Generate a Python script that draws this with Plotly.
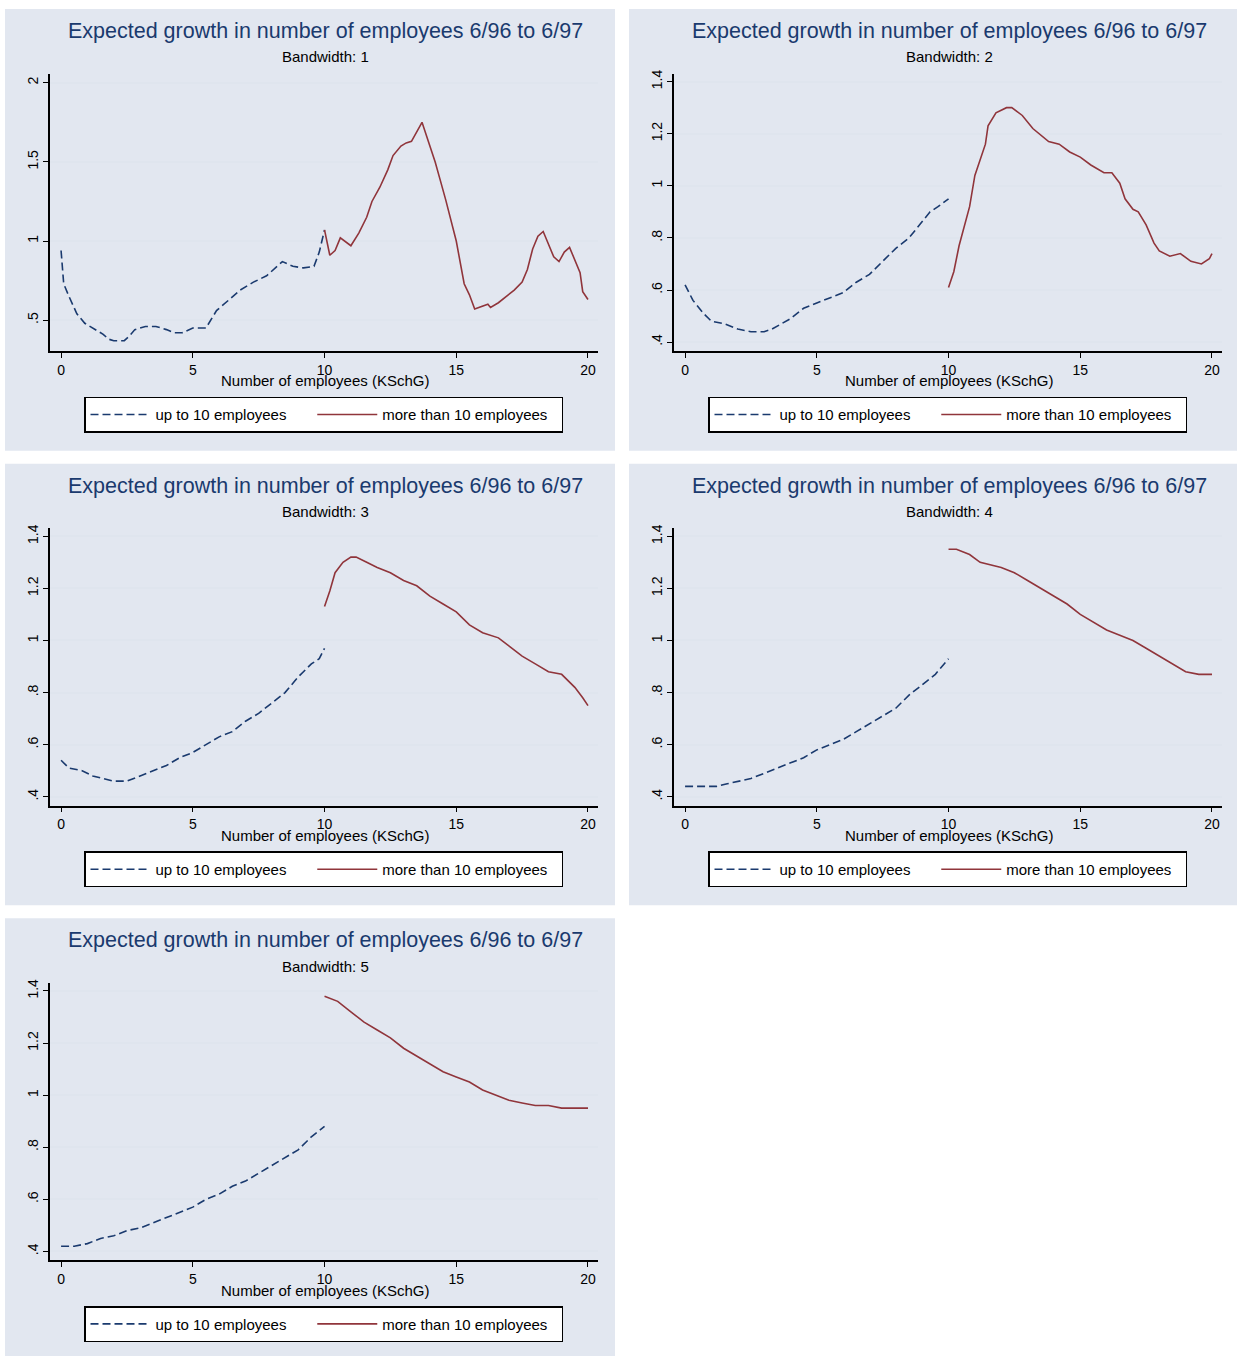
import plotly.graph_objects as go

# bandwidth 1
bw1_small_x = [0, 0.1, 0.3, 0.6, 0.9, 1.2, 1.6, 1.8, 2.0, 2.4, 2.6, 2.8, 3.2, 3.6, 4.0, 4.3, 4.6, 5.0, 5.5,
               5.9, 6.3, 6.8, 7.3, 7.8, 8.4, 8.8, 9.2, 9.6, 9.8, 10]
bw1_small_y = [0.94, 0.73, 0.65, 0.54, 0.48, 0.45, 0.41, 0.38, 0.37, 0.37, 0.40, 0.44, 0.46, 0.46, 0.44, 0.42,
               0.42, 0.45, 0.45, 0.56, 0.62, 0.69, 0.74, 0.78, 0.87, 0.84, 0.83, 0.84, 0.93, 1.07]
bw1_large_x = [10, 10.2, 10.4, 10.6, 11, 11.3, 11.6, 11.8, 12.1, 12.4, 12.6, 12.9, 13.1, 13.3, 13.7, 13.9, 14.2,
               14.4, 14.6, 15, 15.3, 15.5, 15.7, 16.2, 16.3, 16.6, 17.2, 17.5, 17.7, 17.9, 18.1, 18.3, 18.7,
               18.9, 19.1, 19.3, 19.7, 19.8, 20]
bw1_large_y = [1.07, 0.91, 0.94, 1.02, 0.97, 1.05, 1.15, 1.25, 1.34, 1.45, 1.54, 1.60, 1.62, 1.63, 1.75, 1.65,
               1.50, 1.38, 1.26, 1.00, 0.73, 0.66, 0.57, 0.60, 0.58, 0.61, 0.69, 0.74, 0.82, 0.95, 1.03, 1.06,
               0.90, 0.87, 0.93, 0.96, 0.80, 0.68, 0.63]

# bandwidth 2
bw2_small_x = [0, 0.3, 0.7, 1.0, 1.5, 2.0, 2.5, 3.0, 3.3, 4, 4.5, 5, 5.5, 6, 6.5, 7, 7.5, 8, 8.5, 9, 9.3, 9.6, 10]
bw2_small_y = [0.62, 0.56, 0.51, 0.48, 0.47, 0.45, 0.44, 0.44, 0.45, 0.49, 0.53, 0.55, 0.57, 0.59, 0.63, 0.66,
               0.71, 0.76, 0.80, 0.86, 0.90, 0.92, 0.95]
bw2_large_x = [10, 10.2, 10.4, 10.8, 11.0, 11.4, 11.5, 11.8, 12.2, 12.4, 12.8, 13.2, 13.8, 14.2, 14.6, 15.0,
               15.4, 15.9, 16.2, 16.5, 16.7, 17.0, 17.2, 17.5, 17.8, 18.0, 18.4, 18.8, 19.2, 19.6, 19.9, 20]
bw2_large_y = [0.61, 0.67, 0.77, 0.92, 1.04, 1.16, 1.23, 1.28, 1.30, 1.30, 1.27, 1.22, 1.17, 1.16, 1.13, 1.11,
               1.08, 1.05, 1.05, 1.01, 0.95, 0.91, 0.90, 0.85, 0.78, 0.75, 0.73, 0.74, 0.71, 0.70, 0.72, 0.74]

# bandwidth 3
bw3_small_x = [0, 0.3, 0.8, 1.2, 1.6, 2, 2.5, 3, 3.5, 4, 4.5, 5, 5.5, 6, 6.5, 7, 7.5, 8, 8.5, 9, 9.5, 9.8, 10]
bw3_small_y = [0.54, 0.51, 0.50, 0.48, 0.47, 0.46, 0.46, 0.48, 0.50, 0.52, 0.55, 0.57, 0.60, 0.63, 0.65, 0.69,
               0.72, 0.76, 0.80, 0.86, 0.91, 0.93, 0.97]
bw3_large_x = [10, 10.2, 10.4, 10.7, 11, 11.2, 11.6, 12, 12.5, 13, 13.5, 14, 14.5, 15, 15.5, 16, 16.6, 17, 17.5,
               18, 18.5, 19, 19.5, 19.8, 20]
bw3_large_y = [1.13, 1.19, 1.26, 1.30, 1.32, 1.32, 1.30, 1.28, 1.26, 1.23, 1.21, 1.17, 1.14, 1.11, 1.06, 1.03,
               1.01, 0.98, 0.94, 0.91, 0.88, 0.87, 0.82, 0.78, 0.75]

# bandwidth 4
bw4_small_x = [0, 0.5, 1.2, 1.6, 2, 2.5, 3, 3.5, 4, 4.5, 5, 5.5, 6, 6.5, 7, 7.5, 8, 8.5, 9, 9.5, 10]
bw4_small_y = [0.44, 0.44, 0.44, 0.45, 0.46, 0.47, 0.49, 0.51, 0.53, 0.55, 0.58, 0.60, 0.62, 0.65, 0.68, 0.71,
               0.74, 0.79, 0.83, 0.87, 0.93]
bw4_large_x = [10, 10.3, 10.8, 11.2, 12, 12.5, 13, 13.5, 14, 14.5, 15, 15.5, 16, 16.5, 17, 17.5, 18, 18.5, 19,
               19.5, 20]
bw4_large_y = [1.35, 1.35, 1.33, 1.30, 1.28, 1.26, 1.23, 1.20, 1.17, 1.14, 1.10, 1.07, 1.04, 1.02, 1.00, 0.97,
               0.94, 0.91, 0.88, 0.87, 0.87]

# bandwidth 5
bw5_small_x = [0, 0.5, 1, 1.5, 2, 2.5, 3, 3.5, 4, 4.5, 5, 5.5, 6, 6.5, 7, 7.5, 8, 8.5, 9, 9.5, 10]
bw5_small_y = [0.42, 0.42, 0.43, 0.45, 0.46, 0.48, 0.49, 0.51, 0.53, 0.55, 0.57, 0.60, 0.62, 0.65, 0.67, 0.70,
               0.73, 0.76, 0.79, 0.84, 0.88]
bw5_large_x = [10, 10.5, 11, 11.5, 12, 12.5, 13, 13.5, 14, 14.5, 15, 15.5, 16, 16.5, 17, 17.5, 18, 18.5, 19,
               19.5, 20]
bw5_large_y = [1.38, 1.36, 1.32, 1.28, 1.25, 1.22, 1.18, 1.15, 1.12, 1.09, 1.07, 1.05, 1.02, 1.00, 0.98, 0.97,
               0.96, 0.96, 0.95, 0.95, 0.95]

panels = [
    (1, bw1_small_x, bw1_small_y, bw1_large_x, bw1_large_y, [0.5, 1, 1.5, 2], ['.5', '1', '1.5', '2'], [0.305, 2.057]),
    (2, bw2_small_x, bw2_small_y, bw2_large_x, bw2_large_y, None, None, None),
    (3, bw3_small_x, bw3_small_y, bw3_large_x, bw3_large_y, None, None, None),
    (4, bw4_small_x, bw4_small_y, bw4_large_x, bw4_large_y, None, None, None),
    (5, bw5_small_x, bw5_small_y, bw5_large_x, bw5_large_y, None, None, None),
]
default_ticks = [0.4, 0.6, 0.8, 1.0, 1.2, 1.4]
default_labels = ['.4', '.6', '.8', '1', '1.2', '1.4']

W, H = 1237, 1356
BG = '#e2e7f0'
NAVY = '#1a3a6e'
RED = '#90353b'
FONT = 'Liberation Sans, Arial, sans-serif'
NB = '\u00a0'

# panel boxes in pixels: (left, top, right, bottom)
boxes = [(5, 5, 615, 448), (629, 5, 1237, 448),
         (5, 461, 615, 904), (629, 461, 1237, 904),
         (5, 917, 615, 1356)]


def px(x):
    return x / W


def py(y):
    return 1 - y / H


fig = go.Figure()
layout = dict(width=W, height=H, margin=dict(l=0, r=0, t=0, b=0),
              paper_bgcolor='white', plot_bgcolor='white',
              font=dict(family=FONT, color='black'), shapes=[], annotations=[])

for i, (bw, sx, sy, lx, ly, yt, ylab, yr) in enumerate(panels):
    left, top, right, bottom = boxes[i]
    k = '' if i == 0 else str(i + 1)
    pl, pr = left + 45, left + 593
    pt, pb = top + 65, top + 343
    leg = 'legend' + k
    fig.add_trace(go.Scatter(x=sx, y=sy, mode='lines', name='up to 10 employees' + NB * 5,
                             line=dict(color=NAVY, width=1.6, dash='8px,4px'),
                             xaxis='x' + k, yaxis='y' + k, legend=leg))
    fig.add_trace(go.Scatter(x=lx, y=ly, mode='lines', name='more than 10 employees' + NB * 2,
                             line=dict(color=RED, width=1.6),
                             xaxis='x' + k, yaxis='y' + k, legend=leg))
    layout['xaxis' + k] = dict(domain=[px(pl), px(pr)], anchor='y' + k, range=[-0.42, 20.38],
                               tickvals=[0, 5, 10, 15, 20], showgrid=False, zeroline=False,
                               showline=True, linecolor='black', linewidth=1.5,
                               ticks='outside', ticklen=5, tickcolor='black',
                               tickfont=dict(size=14))
    layout['yaxis' + k] = dict(domain=[py(pb), py(pt)], anchor='x' + k,
                               range=yr or [0.366, 1.43],
                               tickvals=yt or default_ticks, ticktext=ylab or default_labels,
                               tickangle=-90, showgrid=True, gridcolor='#dfe5ee', gridwidth=1.5,
                               zeroline=False, showline=True, linecolor='black', linewidth=1.5,
                               ticks='outside', ticklen=5, tickcolor='black',
                               tickfont=dict(size=14))
    layout[leg] = dict(x=px(left + 79), y=py(top + 407), xanchor='left', yanchor='middle',
                       orientation='h', bgcolor='white', bordercolor='black', borderwidth=1.5,
                       font=dict(size=15), itemwidth=60, tracegroupgap=0)
    layout['shapes'].append(dict(type='rect', xref='paper', yref='paper', layer='below',
                                 x0=px(left), x1=px(right), y0=py(bottom), y1=py(top),
                                 fillcolor=BG, line=dict(width=0)))
    cx = px(left + 320)
    layout['annotations'] += [
        dict(text='Expected growth in number of employees 6/96 to 6/97', x=cx, y=py(top + 22),
             xanchor='center', yanchor='middle',
             xref='paper', yref='paper', showarrow=False, font=dict(size=21.5, color=NAVY)),
        dict(text='Bandwidth: %d' % bw, x=cx, y=py(top + 48), xanchor='center', yanchor='middle',
             xref='paper', yref='paper', showarrow=False, font=dict(size=15)),
        dict(text='Number of employees (KSchG)', x=px(left + 320), y=py(top + 373),
             xanchor='center', yanchor='middle',
             xref='paper', yref='paper', showarrow=False, font=dict(size=15)),
    ]

fig.update_layout(**layout)
fig.write_html("out.html", post_script="document.body.style.margin='0';",
               config={'displayModeBar': False})
